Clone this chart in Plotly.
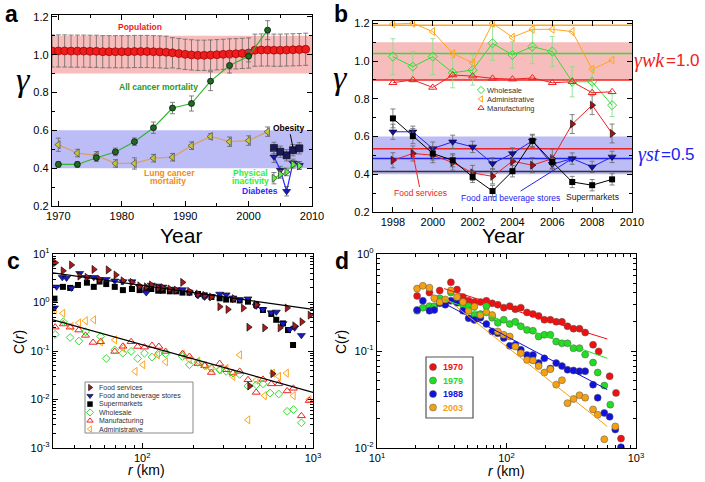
import math
import plotly.graph_objects as go

W, H = 705, 482

# ---------------- Panel a data ----------------
pop_years = list(range(1969, 2010))
pop_gamma = [1.020, 1.020, 1.020, 1.019, 1.019, 1.019, 1.018, 1.018, 1.016, 1.016,
             1.016, 1.016, 1.016, 1.017, 1.017, 1.017, 1.016, 1.015, 1.013, 1.010,
             1.006, 1.002, 0.999, 0.997, 0.997, 0.998, 1.000, 1.002, 1.004, 1.005,
             1.007, 1.009, 1.024, 1.025, 1.025, 1.024, 1.024, 1.025, 1.026, 1.027, 1.029]
pop_err = [0.085] * 19 + [0.08] * 13 + [0.085] * 9

cancer_years = [1970, 1973, 1976, 1979, 1982, 1985, 1988, 1991, 1994, 1997, 2000, 2003]
all_cancer = [0.420, 0.420, 0.455, 0.486, 0.540, 0.614, 0.718, 0.742, 0.860, 0.943, 0.992, 1.130]
all_cancer_err = [0.015, 0.015, 0.02, 0.02, 0.02, 0.03, 0.03, 0.04, 0.05, 0.04, 0.03, 0.05]
lung_cancer = [0.524, 0.480, 0.468, 0.425, 0.425, 0.453, 0.458, 0.519, 0.568, 0.540, 0.546, 0.593]
lung_err = [0.035, 0.02, 0.02, 0.02, 0.03, 0.02, 0.02, 0.02, 0.015, 0.025, 0.025, 0.025]

health_years = [2004, 2005, 2006, 2007, 2008]
obesity = [0.507, 0.487, 0.468, 0.495, 0.505]
obesity_err = [0.03, 0.03, 0.03, 0.03, 0.03]
diabetes = [0.460, 0.390, 0.278, 0.428, 0.415]
diabetes_err = [0.03, 0.02, 0.025, 0.02, 0.02]
inactivity = [0.347, 0.367, 0.380, 0.420, 0.413]
inactivity_err = [0.03, 0.02, 0.02, 0.02, 0.02]

band_wk = [0.9, 1.1]
band_st = [0.4, 0.6]

# ---------------- Panel b data ----------------
ind_years = list(range(1998, 2010))
wholesale = [1.023, 0.970, 1.023, 0.938, 0.952, 1.094, 1.032, 1.076, 1.050, 0.890, 0.890, 0.766]
wholesale_err = [0.095, 0.08, 0.095, 0.08, 0.08, 0.09, 0.07, 0.09, 0.08, 0.08, 0.06, 0.06]
administrative = [1.196, 1.200, 1.156, 1.040, 0.990, 1.200, 1.126, 1.168, 1.168, 1.156, 0.956, 1.005]
manufacturing = [0.885, 0.900, 0.860, 0.926, 0.920, 0.908, 0.904, 0.910, 0.885, 0.890, 0.832, 0.837]
food_services = [0.474, 0.510, 0.501, 0.462, 0.407, 0.389, 0.469, 0.448, 0.483, 0.666, 0.766, 0.616]
food_services_err = [0.04, 0.04, 0.04, 0.04, 0.04, 0.04, 0.04, 0.04, 0.05, 0.05, 0.05, 0.05]
food_bev = [0.625, 0.625, 0.536, 0.572, 0.545, 0.457, 0.510, 0.577, 0.453, 0.483, 0.439, 0.492]
food_bev_err = [0.04, 0.03, 0.035, 0.035, 0.03, 0.03, 0.03, 0.03, 0.03, 0.03, 0.03, 0.03]
supermarkets = [0.696, 0.602, 0.510, 0.474, 0.386, 0.311, 0.416, 0.577, 0.465, 0.359, 0.342, 0.373]
supermarkets_err = [0.05, 0.04, 0.035, 0.035, 0.03, 0.03, 0.03, 0.035, 0.035, 0.03, 0.03, 0.03]

avg_colors = ['#ffa520', '#33dd33', '#ee2222', '#ee2222', '#2222ee', '#333333']
avg_values = [1.19, 1.04, 0.90, 0.535, 0.483, 0.415]

# ---------------- Panel c data ----------------
fs_r = [30.9, 34.3, 38.4, 43, 47.4, 52, 56.2, 63, 70, 77, 87, 96.5, 105.5, 113, 124, 132, 145, 158,
        172, 189, 212, 232, 254, 284, 317, 345, 390, 420, 425, 465, 520, 580, 640, 705, 780, 860, 960]
fs_c = [6.6, 4.5, 5.95, 3.5, 3.3, 4.8, 3.0, 4.7, 3.7, 2.8, 2.6, 2.2, 2.1, 2.3, 2.0, 2.0, 1.9, 1.8,
        2.6, 1.7, 1.5, 1.4, 1.3, 0.82, 0.72, 1.2, 0.77, 0.31, 0.019, 0.9, 0.30, 0.034, 0.30, 0.77, 0.33, 0.40, 0.55]
fb_r = [30.6, 31.5, 34, 36, 38.5, 43, 47.4, 52, 56, 61.5, 69, 77, 87, 96.5, 105.5, 113, 124, 132, 145,
        158, 172, 189, 212, 232, 254, 284, 310, 340, 372, 416, 465, 509, 570, 610, 667, 730, 781, 855]
fb_c = [0.78, 2.1, 3.3, 3.2, 2.0, 4.0, 3.3, 3.3, 3.0, 3.0, 2.8, 2.7, 2.7, 2.1, 1.6, 2.3, 2.2, 2.1, 1.9,
        1.85, 1.85, 1.6, 1.4, 1.3, 1.35, 1.5, 1.45, 1.25, 1.15, 1.2, 0.85, 0.72, 0.62, 0.64, 0.37, 0.28, 0.30, 0.21]
sm_r = [30.6, 34.3, 37.8, 42, 47.4, 52, 56.2, 61.5, 69, 77, 87, 96.5, 105.5, 113, 124, 132, 145, 158,
        172, 189, 212, 232, 254, 284, 310, 340, 372, 416, 465, 509, 570, 609, 667, 714, 764]
sm_c = [1.2, 2.1, 2.0, 2.3, 2.56, 2.1, 2.7, 2.4, 2.1, 1.8, 1.9, 1.8, 1.8, 1.9, 1.75, 1.75, 1.7, 1.7,
        1.6, 1.6, 1.5, 1.4, 1.3, 1.22, 1.15, 1.15, 1.1, 1.04, 0.89, 0.70, 0.58, 0.44, 0.37, 0.27, 0.133]
wh_r = [30.9, 34.5, 37.8, 42.5, 46.5, 57, 61.5, 69, 77, 86, 94, 103, 114, 125, 137, 172, 189, 212, 232,
        254, 284, 310, 340, 372, 416, 465, 509, 560, 630, 705, 768, 855]
wh_c = [0.22, 0.40, 0.19, 0.16, 0.25, 0.20, 0.07, 0.105, 0.09, 0.098, 0.07, 0.09, 0.075, 0.09, 0.088,
        0.077, 0.052, 0.058, 0.05, 0.044, 0.041, 0.038, 0.035, 0.033, 0.019, 0.02, 0.021, 0.0136, 0.013,
        0.0057, 0.0062, 0.0033]
mf_r = [30.9, 34.5, 37.8, 42.5, 46.5, 51.5, 57, 69, 77, 86, 94, 103, 114, 125, 137, 172, 189, 212, 232,
        254, 284, 310, 340, 372, 416, 465, 509, 570, 630, 705, 768, 855, 950]
mf_c = [0.31, 0.36, 0.31, 0.27, 0.21, 0.15, 0.155, 0.098, 0.125, 0.155, 0.124, 0.12, 0.13, 0.124, 0.098,
        0.088, 0.077, 0.055, 0.05, 0.036, 0.055, 0.041, 0.035, 0.038, 0.0255, 0.014, 0.026, 0.021, 0.021,
        0.015, 0.017, 0.0046, 0.0095]
ad_r = [30.6, 34.3, 38.4, 42.5, 46.5, 52, 57, 69, 77, 91, 101, 123, 137, 172, 189, 212, 232, 254, 284,
        310, 340, 372, 416, 465, 520, 580, 630, 700, 768, 950]
ad_c = [0.70, 0.60, 0.32, 0.38, 0.42, 0.44, 0.155, 0.17, 0.115, 0.038, 0.052, 0.083, 0.06, 0.085, 0.066,
        0.062, 0.05, 0.044, 0.041, 0.044, 0.03, 0.083, 0.0038, 0.025, 0.012, 0.035, 0.03, 0.035, 0.012, 0.01]
fit_r = [30, 1000]
fit_upper = [4.1, 0.72]
fit_lower = [0.44, 0.014]

# ---------------- Panel d data ----------------
r70 = [20.4, 25.4, 30.5, 37.2, 41.5, 46.1, 51, 56.5, 62.9, 69.9, 77.5, 85.7, 95.3, 106, 117, 129, 144,
       160, 177, 196, 218, 242, 268, 296, 329, 366, 405, 466, 515, 626, 701, 766]
c70 = [0.37, 0.40, 0.42, 0.51, 0.43, 0.36, 0.33, 0.32, 0.32, 0.33, 0.31, 0.30, 0.28, 0.29, 0.27, 0.28,
       0.25, 0.24, 0.23, 0.21, 0.21, 0.20, 0.20, 0.18, 0.17, 0.17, 0.155, 0.116, 0.099, 0.055, 0.037, 0.0125]
r79 = [20.4, 22.6, 25.4, 27.7, 30.5, 33.7, 37.2, 41.5, 46.1, 51, 56.5, 62.9, 69.9, 77.5, 85.7, 95.3, 106,
       117, 129, 144, 160, 177, 196, 218, 242, 268, 296, 329, 366, 405, 466, 506, 569, 633]
c79 = [0.26, 0.28, 0.29, 0.29, 0.35, 0.33, 0.40, 0.32, 0.30, 0.29, 0.235, 0.24, 0.29, 0.22, 0.195, 0.21,
       0.19, 0.20, 0.18, 0.165, 0.162, 0.141, 0.147, 0.147, 0.125, 0.12, 0.12, 0.107, 0.107, 0.092, 0.076,
       0.060, 0.044, 0.028]
r88 = [20.4, 22.6, 25.4, 27.7, 30.5, 33.7, 37.2, 41.5, 46.1, 51, 56.5, 62.9, 69.9, 77.5, 85.7, 95.3, 106,
       117, 129, 144, 160, 177, 196, 218, 242, 268, 296, 329, 366, 405, 466, 506, 569, 626, 692, 765]
c88 = [0.265, 0.33, 0.26, 0.265, 0.31, 0.30, 0.33, 0.315, 0.26, 0.218, 0.209, 0.22, 0.19, 0.159, 0.152,
       0.136, 0.113, 0.116, 0.103, 0.091, 0.091, 0.075, 0.084, 0.066, 0.075, 0.070, 0.064, 0.063, 0.062,
       0.062, 0.045, 0.033, 0.023, 0.021, 0.0155, 0.0102]
r03 = [20.4, 22.6, 25.4, 27.7, 30.5, 33.7, 37.2, 41.5, 46.1, 51, 56.5, 62.9, 69.9, 77.5, 85.7, 95.3, 106,
       117, 129, 144, 160, 177, 196, 218, 242, 268, 296, 329, 366, 405, 466, 506, 569, 692]
c03 = [0.44, 0.47, 0.45, 0.35, 0.32, 0.34, 0.42, 0.36, 0.32, 0.26, 0.287, 0.235, 0.25, 0.235, 0.159,
       0.147, 0.141, 0.111, 0.095, 0.081, 0.080, 0.070, 0.060, 0.065, 0.045, 0.050, 0.029, 0.032, 0.035,
       0.033, 0.025, 0.022, 0.0123, 0.0167]
fitd_r = [33, 600]
fitd_70 = [0.44, 0.133]
fitd_79 = [0.34, 0.084]
fitd_88 = [0.31, 0.040]
fitd_03 = [0.36, 0.0167]

# ---------------- helpers ----------------
def PX(x):
    return x / W


def PY(y):
    return 1 - y / H


SANS = 'Liberation Sans'
SERIF = 'Liberation Serif'
ERR = dict(color='#666666', thickness=0.8, width=2.5)

fig = go.Figure()


def add(x, y, axis, mode='markers', marker=None, line=None, err=None, errcolor=None):
    xa, ya = axis
    kw = dict(x=x, y=y, mode=mode, xaxis=xa, yaxis=ya, showlegend=False, hoverinfo='skip')
    if marker:
        kw['marker'] = marker
    if line:
        kw['line'] = line
    if err is not None:
        e = dict(ERR)
        if errcolor:
            e['color'] = errcolor
        kw['error_y'] = dict(type='data', array=err, **e)
    fig.add_trace(go.Scatter(**kw))


A, B, C, D, O = ('x', 'y'), ('x2', 'y2'), ('x3', 'y3'), ('x4', 'y4'), ('x5', 'y5')

# ---- panel a ----
add(pop_years, pop_gamma, A, marker=dict(symbol='circle', size=8, color='#ee1c1c',
                                          line=dict(color='#990000', width=0.7)), err=pop_err)
add(cancer_years, lung_cancer, A, mode='lines+markers', line=dict(color='#d9a066', width=1.3),
    marker=dict(symbol='triangle-left', size=7, color='#c8c832', line=dict(color='#555555', width=0.8)),
    err=lung_err)
add(cancer_years, all_cancer, A, mode='lines+markers', line=dict(color='#2db52d', width=1.1),
    marker=dict(symbol='circle', size=6, color='#1e6b1e', line=dict(color='#111111', width=0.8)),
    err=all_cancer_err)
add(health_years, obesity, A, mode='lines+markers', line=dict(color='#1a1a5a', width=1),
    marker=dict(symbol='square', size=7, color='#1a1a5a', line=dict(color='#000000', width=0.6)),
    err=obesity_err)
add(health_years, diabetes, A, mode='lines+markers', line=dict(color='#2a2aff', width=1.2),
    marker=dict(symbol='triangle-down', size=7, color='#1a1aaa', line=dict(color='#000033', width=0.6)),
    err=diabetes_err)
add(health_years, inactivity, A, mode='lines+markers', line=dict(color='#33dd33', width=1.1),
    marker=dict(symbol='triangle-right', size=7, color='#66ee44', line=dict(color='#333333', width=0.7)),
    err=inactivity_err)

# ---- panel b ----
for v, col in zip(avg_values, avg_colors):
    add([1997, 2010], [v, v], B, mode='lines', line=dict(color=col, width=1.5))
add(ind_years, wholesale, B, mode='lines+markers', line=dict(color='#33dd33', width=1),
    marker=dict(symbol='diamond-open', size=7, color='#33dd33', line=dict(width=1)),
    err=wholesale_err, errcolor='#88dd88')
add(ind_years, administrative, B, mode='lines+markers', line=dict(color='#ffa520', width=1),
    marker=dict(symbol='triangle-left-open', size=7, color='#ffa520', line=dict(width=1)))
add(ind_years, manufacturing, B, mode='lines+markers', line=dict(color='#ee2222', width=1),
    marker=dict(symbol='triangle-up-open', size=7, color='#ee2222', line=dict(width=1)))
add(ind_years, food_services, B, mode='lines+markers', line=dict(color='#ee2222', width=1),
    marker=dict(symbol='triangle-right', size=7, color='#aa1111', line=dict(color='#000000', width=0.6)),
    err=food_services_err)
add(ind_years, food_bev, B, mode='lines+markers', line=dict(color='#2222ee', width=1),
    marker=dict(symbol='triangle-down', size=7, color='#1111aa', line=dict(color='#000000', width=0.6)),
    err=food_bev_err)
add(ind_years, supermarkets, B, mode='lines+markers', line=dict(color='#000000', width=1),
    marker=dict(symbol='square', size=6, color='#000000'), err=supermarkets_err)

# ---- panel c ----
st_fs = dict(symbol='triangle-right', size=7, color='#aa1a1a', line=dict(color='#000000', width=0.6))
st_fb = dict(symbol='triangle-down', size=7, color='#1a1acc', line=dict(color='#000000', width=0.6))
st_sm = dict(symbol='square', size=6, color='#000000')
st_wh = dict(symbol='diamond-open', size=6, color='#33dd33', line=dict(width=1))
st_mf = dict(symbol='triangle-up-open', size=7, color='#ee2222', line=dict(width=1))
st_ad = dict(symbol='triangle-left-open', size=7, color='#ffa520', line=dict(width=1))
add(ad_r, ad_c, C, marker=st_ad)
add(mf_r, mf_c, C, marker=st_mf)
add(wh_r, wh_c, C, marker=st_wh)
add(sm_r, sm_c, C, marker=st_sm)
add(fb_r, fb_c, C, marker=st_fb)
add(fs_r, fs_c, C, marker=st_fs)
add(fit_r, fit_upper, C, mode='lines', line=dict(color='#000000', width=1.2))
add(fit_r, fit_lower, C, mode='lines', line=dict(color='#000000', width=1.2))

# ---- panel d ----
d_series = [(r70, c70, fitd_70, '#ee1111', '1970'), (r79, c79, fitd_79, '#22dd22', '1979'),
            (r88, c88, fitd_88, '#1111dd', '1988'), (r03, c03, fitd_03, '#f5a010', '2003')]
for rr, cc, ff, col, _ in d_series:
    add(rr, cc, D, marker=dict(symbol='circle', size=7, color=col, line=dict(color='#555555', width=0.5)))
for rr, cc, ff, col, _ in d_series:
    add(fitd_r, ff, D, mode='lines', line=dict(color=col, width=1))

# ---- manual legends (overlay axis in pixel units) ----
annotations = []


def legend(entries, mx, y0, dy, tx, size, msize=None, bold=False, colored=False, textcolor='#333333'):
    for i, (name, st, col) in enumerate(entries):
        y = y0 + i * dy
        m = dict(st)
        if msize:
            m['size'] = msize
        add([mx], [y], O, marker=m)
        t = name
        if bold:
            t = '<b>' + t + '</b>'
        annotations.append(dict(x=tx, y=y, xref='x5', yref='y5', text=t, showarrow=False,
                                xanchor='left', yanchor='middle',
                                font=dict(family=SANS, size=size, color=col if colored else textcolor)))


legend([('Wholesale', st_wh, None), ('Administrative', st_ad, None), ('Manufacturing', st_mf, None)],
       481, 90, 9, 485, 7.5, msize=5.5)
legend([('Food services', st_fs, None), ('Food and beverage stores', st_fb, None),
        ('Supermarkets', st_sm, None), ('Wholesale', st_wh, None), ('Manufacturing', st_mf, None),
        ('Administrative', st_ad, None)], 90, 387.5, 8.3, 97, 7, msize=5.5)
legend([(nm, dict(symbol='circle', size=7, color=col, line=dict(color='#555555', width=0.5)), col)
        for _, _, _, col, nm in d_series], 433, 367, 13.5, 441, 9, bold=True, colored=True)

shapes = [
    dict(type='rect', xref='x', yref='y', x0=1969, x1=2010, y0=band_wk[0], y1=band_wk[1],
         fillcolor='#f7bcbc', line=dict(width=0), layer='below'),
    dict(type='rect', xref='x', yref='y', x0=1969, x1=2010, y0=band_st[0], y1=band_st[1],
         fillcolor='#bcbcf6', line=dict(width=0), layer='below'),
    dict(type='rect', xref='x2', yref='y2', x0=1997, x1=2010, y0=band_wk[0], y1=band_wk[1],
         fillcolor='#f7bcbc', line=dict(width=0), layer='below'),
    dict(type='rect', xref='x2', yref='y2', x0=1997, x1=2010, y0=band_st[0], y1=band_st[1],
         fillcolor='#bcbcf6', line=dict(width=0), layer='below'),
    dict(type='rect', xref='paper', yref='paper', x0=PX(85), x1=PX(193), y0=PY(433), y1=PY(382),
         line=dict(color='#888888', width=1), fillcolor='rgba(255,255,255,0)'),
    dict(type='rect', xref='paper', yref='paper', x0=PX(426), x1=PX(473), y0=PY(418), y1=PY(357),
         line=dict(color='#555555', width=1.2), fillcolor='rgba(255,255,255,0)'),
]


def txt(x, y, s, size, color='#000000', bold=False, family=SANS, angle=0, italic=False, anchor='center'):
    if bold:
        s = '<b>' + s + '</b>'
    if italic:
        s = '<i>' + s + '</i>'
    annotations.append(dict(x=PX(x), y=PY(y), xref='paper', yref='paper', text=s, showarrow=False,
                            xanchor=anchor, yanchor='middle', textangle=angle,
                            font=dict(family=family, size=size, color=color)))


# panel letters
txt(11, 14, 'a', 23, bold=True)
txt(341, 14, 'b', 23, bold=True)
txt(13, 261, 'c', 23, bold=True)
txt(342, 261, 'd', 23, bold=True)
# axis titles
txt(181, 235, 'Year', 21)
txt(503, 235, 'Year', 21)
txt(23, 80, 'γ', 34, family=SERIF, italic=True)
txt(340, 78, 'γ', 34, family=SERIF, italic=True)
txt(19, 342, 'C(<i>r</i>)', 14, angle=-90)
txt(341, 342, 'C(<i>r</i>)', 14, angle=-90)
txt(146, 470, '<i>r</i> (km)', 14)
txt(506, 471, '<i>r</i> (km)', 14)
# panel a labels
txt(140, 27, 'Population', 8.5, '#ee1c1c', bold=True)
txt(158, 87, 'All cancer mortality', 8.5, '#1f9a1f', bold=True)
txt(169, 173, 'Lung cancer', 8.5, '#f08a24', bold=True)
txt(168, 181, 'mortality', 8.5, '#f08a24', bold=True)
txt(250, 172.5, 'Physical', 8.5, '#33ee33', bold=True)
txt(250, 180.5, 'inactivity', 8.5, '#33ee33', bold=True)
txt(260, 191, 'Diabetes', 8.5, '#2a2aff', bold=True)
annotations.append(dict(x=2007, y=0.508, xref='x', yref='y', text='<b>Obesity</b>', showarrow=True,
                        arrowhead=0, arrowwidth=1, arrowcolor='#000000', ax=-4, ay=-20,
                        font=dict(family=SANS, size=8.5, color='#000000')))
# panel b labels
annotations.append(dict(x=1999, y=0.51, xref='x2', yref='y2', text='Food services', showarrow=True,
                        arrowhead=2, arrowsize=0.8, arrowwidth=1, arrowcolor='#ee2222', ax=8, ay=40,
                        font=dict(family=SANS, size=8.5, color='#ee2222')))
annotations.append(dict(x=2007, y=0.483, xref='x2', yref='y2', text='Food and beverage stores',
                        showarrow=True, arrowhead=2, arrowsize=0.8, arrowwidth=1, arrowcolor='#2222ee',
                        ax=-62, ay=39, font=dict(family=SANS, size=8.5, color='#2222ee')))
txt(592, 197, 'Supermarkets', 8.5, '#222222')
# gamma levels at right of panel b
txt(667, 60, '<i>γwk</i>', 20, '#ee2222', family=SERIF, anchor='right')
txt(664, 60, '=1.0', 17, '#ee2222', anchor='left')
txt(662, 155, '<i>γst</i>', 20, '#2222ee', family=SERIF, anchor='right')
txt(659, 155, '=0.5', 17, '#2222ee', anchor='left')

TICKF = dict(family=SANS, size=11, color='#000000')
base = dict(showline=True, linecolor='#000000', linewidth=1.3, mirror='allticks', ticks='inside',
            ticklen=5, tickwidth=1, tickcolor='#000000', showgrid=False, zeroline=False, tickfont=TICKF,
            automargin=False)


def lin(domain, rng, tick0, dtick, mdtick, anchor, fmt=None):
    d = dict(base, domain=domain, range=rng, tick0=tick0, dtick=dtick, anchor=anchor,
             minor=dict(dtick=mdtick, ticks='inside', ticklen=3, tickcolor='#000000', showgrid=False))
    if fmt:
        d['tickformat'] = fmt
    return d


def logax(domain, rng, tv, tt, minor_vals, anchor):
    return dict(base, type='log', domain=domain, range=rng, tickmode='array', tickvals=tv, ticktext=tt,
                anchor=anchor,
                minor=dict(tickmode='array', tickvals=minor_vals, ticks='inside', ticklen=3,
                           tickcolor='#000000', showgrid=False))


def minors(e0, e1):
    return [k * 10 ** e for e in range(e0, e1) for k in range(2, 10)]


fig.update_layout(
    width=W, height=H, autosize=False, margin=dict(l=0, r=0, t=0, b=0, pad=0),
    paper_bgcolor='#ffffff', plot_bgcolor='rgba(0,0,0,0)', showlegend=False,
    xaxis=lin([PX(52), PX(312)], [1969, 2010], 1970, 10, 5, 'y'),
    yaxis=lin([PY(206), PY(15)], [0.2, 1.21], 0.2, 0.2, 0.1, 'x', '.1f'),
    xaxis2=lin([PX(373), PX(632)], [1997, 2010], 1998, 2, 1, 'y2'),
    yaxis2=lin([PY(212), PY(21)], [0.2, 1.212], 0.2, 0.2, 0.1, 'x2', '.1f'),
    xaxis3=logax([PX(53), PX(313)], [math.log10(30), 3], [100, 1000],
                 ['10<sup>2</sup>', '10<sup>3</sup>'], minors(1, 3), 'y3'),
    yaxis3=logax([PY(448), PY(254)], [-3, 1], [0.001, 0.01, 0.1, 1, 10],
                 ['10<sup>-3</sup>', '10<sup>-2</sup>', '10<sup>-1</sup>', '10<sup>0</sup>', '10<sup>1</sup>'],
                 minors(-3, 1), 'x3'),
    xaxis4=logax([PX(377), PX(636)], [1, 3], [10, 100, 1000],
                 ['10<sup>1</sup>', '10<sup>2</sup>', '10<sup>3</sup>'], minors(1, 3), 'y4'),
    yaxis4=logax([PY(448), PY(254)], [-2, 0], [0.01, 0.1, 1],
                 ['10<sup>-2</sup>', '10<sup>-1</sup>', '10<sup>0</sup>'], minors(-2, 0), 'x4'),
    xaxis5=dict(domain=[0, 1], range=[0, W], visible=False, anchor='y5', fixedrange=True, automargin=False),
    yaxis5=dict(domain=[0, 1], range=[H, 0], visible=False, anchor='x5', fixedrange=True, automargin=False),
    shapes=shapes, annotations=annotations,
)

fig.write_html('out.html', config={'displayModeBar': False},
               post_script="document.body.style.margin='0px';")
